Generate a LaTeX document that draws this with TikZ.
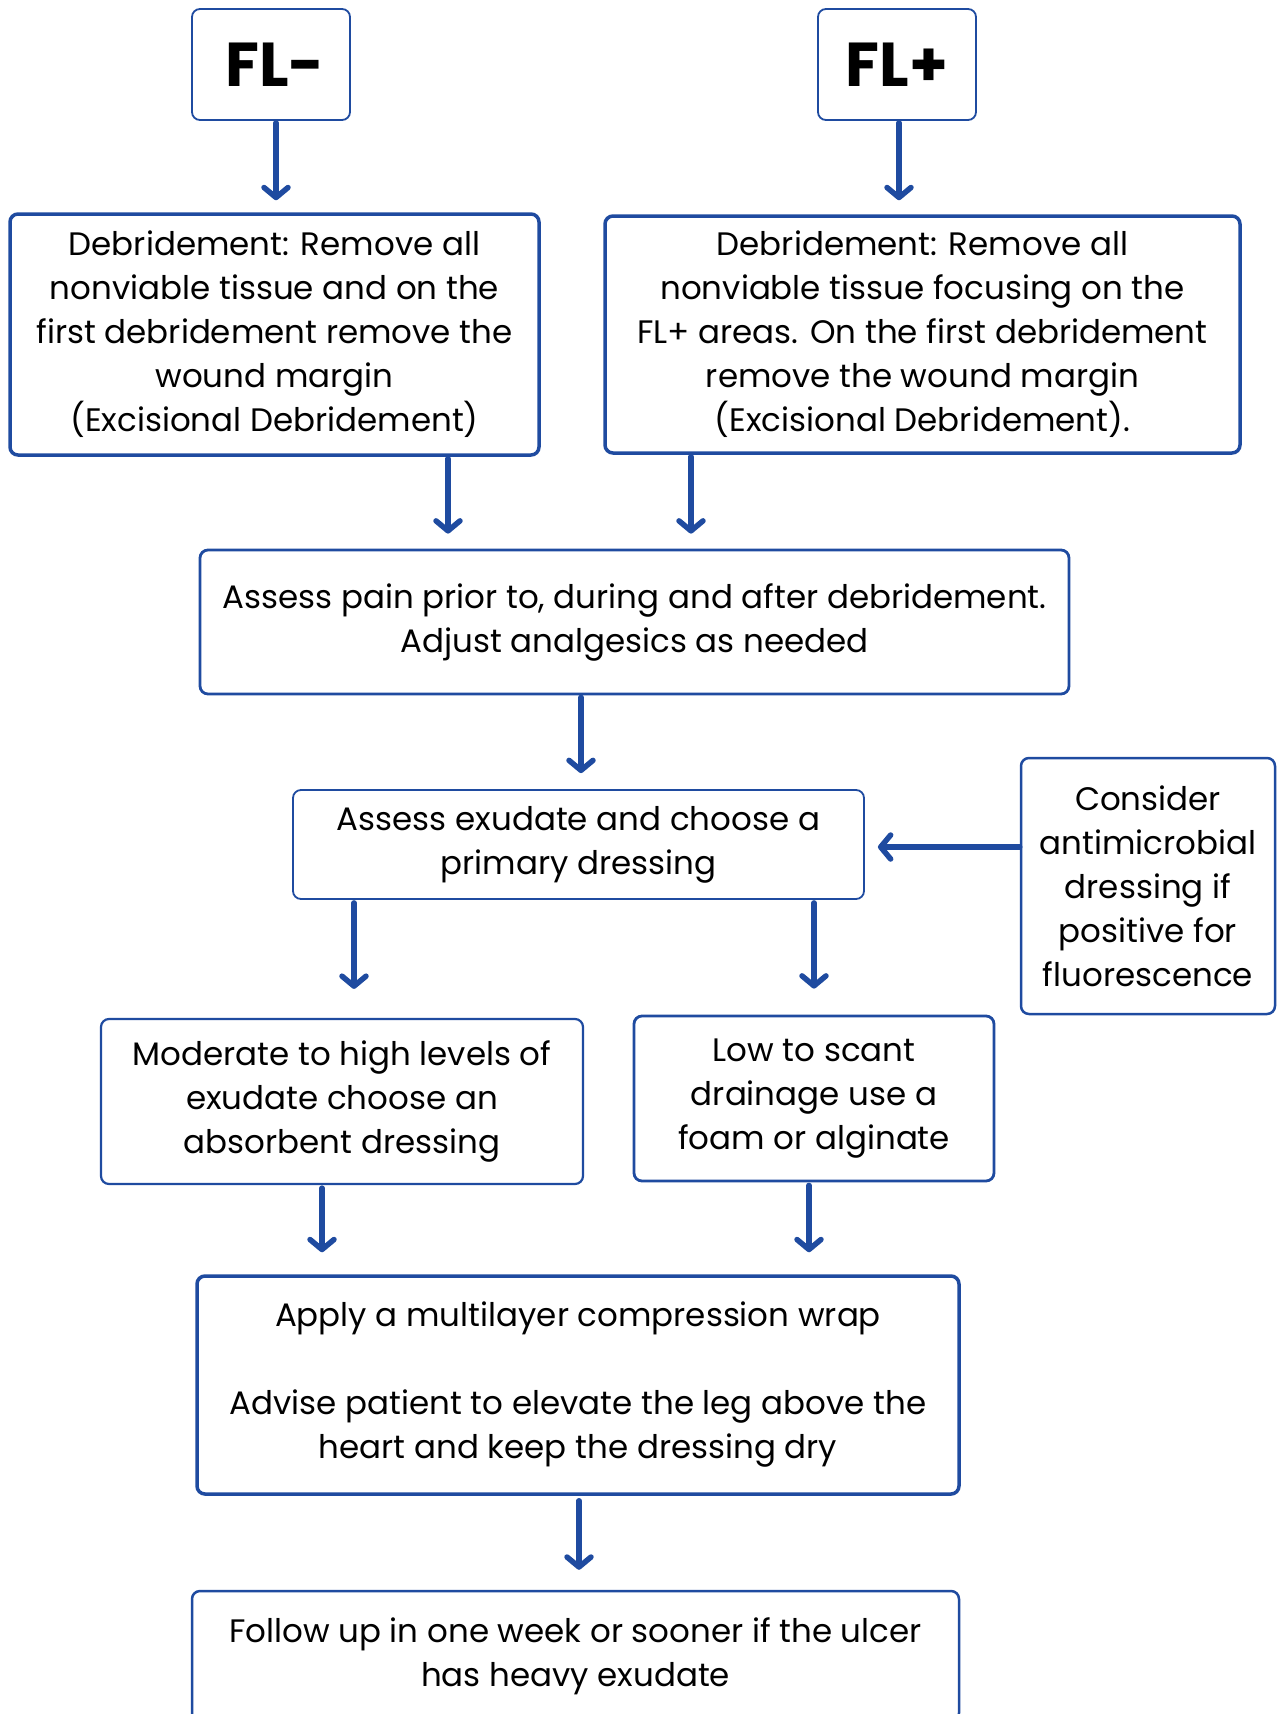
\documentclass[tikz,border=0pt]{standalone}
\usepackage{fontspec}
\setmainfont{Poppins}
\usepackage{tikz}
\usetikzlibrary{arrows.meta}
\definecolor{bluscuro}{RGB}{31,75,160}

\begin{document}
\begin{tikzpicture}[x=1pt, y=-1pt,
    scatola/.style={draw=bluscuro, rounded corners=8pt, align=center, inner sep=0pt,
        font=\fontsize{32.5}{44}\selectfont},
    freccia/.style={draw=bluscuro, line width=5.5pt, line cap=round,
        -{Straight Barb[length=10pt,width=24pt,round]}}]

\clip (0,0) rectangle (1285,1714); % bordi della figura

% Caselle in alto
\node[scatola, line width=1.8pt, minimum width=158pt, minimum height=111pt,
    font=\fontsize{62}{62}\selectfont\bfseries] (flneg) at (271,64.5) {\hspace*{8pt}FL-};
\node[scatola, line width=1.8pt, minimum width=158pt, minimum height=111pt,
    font=\fontsize{62}{62}\selectfont\bfseries] (flpos) at (897,64.5) {FL+};

% Debridement
\node[scatola, line width=3.5pt, minimum width=529pt, minimum height=241pt] (debridneg) at (274.5,334.5)
    {Debridement: Remove all\\nonviable tissue and on the\\first debridement remove the\\wound margin\\(Excisional Debridement)};
\node[scatola, line width=3.5pt, minimum width=635pt, minimum height=237pt] (debridpos) at (922.5,334.5)
    {Debridement: Remove all\\nonviable tissue focusing on the\\FL+ areas. On the first debridement\\remove the wound margin\\(Excisional Debridement).};

% Dolore ed essudato
\node[scatola, line width=2.8pt, minimum width=869pt, minimum height=144pt] (pain) at (634.5,622)
    {Assess pain prior to, during and after debridement.\\Adjust analgesics as needed};
\node[scatola, line width=1.8pt, minimum width=571pt, minimum height=109pt] (exudate) at (578.5,844.5)
    {Assess exudate and choose a\\primary dressing};
\node[scatola, line width=2.5pt, minimum width=254pt, minimum height=256pt] (antimicro) at (1148,886)
    {Consider\\antimicrobial\\dressing if\\positive for\\fluorescence};

% Scelta della medicazione
\node[scatola, line width=2.2pt, minimum width=482pt, minimum height=165pt] (moderate) at (342,1101.5)
    {Moderate to high levels of\\exudate choose an\\absorbent dressing};
\node[scatola, line width=2.8pt, minimum width=360pt, minimum height=165pt] (low) at (814,1098.5)
    {Low to scant\\drainage use a\\foam or alginate};

% Compressione e controllo
\node[scatola, line width=3.5pt, minimum width=762pt, minimum height=218pt] (compress) at (578,1385)
    {Apply a multilayer compression wrap\\[44pt]Advise patient to elevate the leg above the\\heart and keep the dressing dry};
\node[scatola, line width=2.5pt, minimum width=767pt, minimum height=130pt] (followup) at (575.5,1656)
    {Follow up in one week or sooner if the ulcer\\has heavy exudate};

% Frecce
\draw[freccia, shorten <=2pt, shorten >=12pt] (flneg.south -| 276,0) -- (debridneg.north -| 276,0);
\draw[freccia, shorten <=2pt, shorten >=14pt] (flpos.south -| 899,0) -- (debridpos.north -| 899,0);
\draw[freccia, shorten <=2pt, shorten >=15pt] (debridneg.south -| 448,0) -- (pain.north -| 448,0);
\draw[freccia, shorten <=2pt, shorten >=15pt] (debridpos.south -| 691,0) -- (pain.north -| 691,0);
\draw[freccia, shorten <=2pt, shorten >=16pt] (pain.south -| 581,0) -- (exudate.north -| 581,0);
\draw[freccia, shorten >=13pt] (antimicro.west |- 0,847) -- (exudate.east |- 0,847); % freccia laterale
\draw[freccia, shorten <=3pt, shorten >=29pt] (exudate.south -| 354,0) -- (moderate.north -| 354,0);
\draw[freccia, shorten <=3pt, shorten >=26pt] (exudate.south -| 814,0) -- (low.north -| 814,0);
\draw[freccia, shorten <=3pt, shorten >=22pt] (moderate.south -| 322,0) -- (compress.north -| 322,0);
\draw[freccia, shorten <=3pt, shorten >=22pt] (low.south -| 809,0) -- (compress.north -| 809,0);
\draw[freccia, shorten <=5pt, shorten >=20pt] (compress.south -| 579,0) -- (followup.north -| 579,0);

\end{tikzpicture}
\end{document}
